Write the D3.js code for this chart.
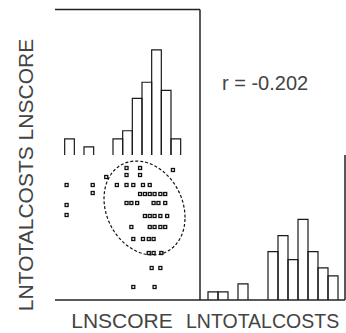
<!DOCTYPE html>
<html>
<head>
<meta charset="utf-8">
<script src="https://cdn.jsdelivr.net/npm/d3@7"></script>
<style>
  html, body { margin: 0; padding: 0; background: #fff; }
  svg { display: block; }
  .lbl { font-family: "Liberation Sans", Arial, sans-serif; font-size: 21px; fill: #444; }
</style>
</head>
<body>
<div id="chart"></div>
<script>
// LNSCORE histogram (bin width 0.1)
const scoreBinStart = [3.1, 3.3, 3.6, 3.7, 3.8, 3.9, 4.0, 4.1, 4.2];
const scoreBinCount = [2, 1, 2, 3, 7, 9, 13, 8, 2];

// LNTOTALCOSTS histogram (bin width 0.2)
const costBinStart = [7.0, 7.2, 7.6, 8.2, 8.4, 8.6, 8.8, 9.0, 9.2, 9.4];
const costBinCount = [1, 1, 2, 6, 8, 5, 10, 6, 4, 3];

// scatter LNSCORE vs LNTOTALCOSTS
const lnScore = [3.12, 3.12, 3.12, 3.39, 3.39, 3.53, 3.64, 3.74, 3.74, 3.74,
  3.88, 3.88, 4.22, 3.81, 3.91, 3.98, 3.88, 3.93, 3.98, 4.03,
  4.09, 4.14, 3.74, 3.79, 3.85, 4.02, 4.07, 4.14, 3.93, 3.98,
  4.03, 4.09, 4.16, 3.79, 3.98, 4.03, 4.09, 4.14, 3.81, 3.91,
  3.97, 4.02, 3.97, 4.02, 4.10, 4.00, 4.09, 3.81, 4.03];
const lnCosts = [9.14, 8.74, 8.54, 9.14, 8.98, 9.30, 9.14, 9.48, 9.34, 9.14,
  9.48, 9.34, 9.44, 9.14, 9.14, 9.14, 8.96, 8.96, 8.96, 8.96,
  8.96, 8.96, 8.78, 8.78, 8.78, 8.78, 8.78, 8.78, 8.52, 8.52,
  8.52, 8.52, 8.52, 8.30, 8.30, 8.30, 8.30, 8.30, 8.06, 8.06,
  8.06, 8.06, 7.78, 7.78, 7.78, 7.48, 7.48, 7.10, 7.10];

// ellipse: mean score, mean cost, sd score, sd cost, r
const ellipseStats = [3.926, 8.68, 0.419, 0.94, -0.202];

const varNames = ['LNSCORE', 'LNTOTALCOSTS'];
const corrLabel = 'r = -0.202';

const width = 346, height = 333;
const svg = d3.select('#chart').append('svg')
  .attr('width', width).attr('height', height);

const xScore = d3.scaleLinear().domain([3.0, 4.5]).range([55, 200]);
const xCost = d3.scaleLinear().domain([6.84, 9.74]).range([200, 345]);
const yCost = d3.scaleLinear().domain([6.84, 9.74]).range([300, 155]);
const yCountTop = d3.scaleLinear().domain([0, 18]).range([155, 9.5]);
const yCountBottom = d3.scaleLinear().domain([0, 18]).range([300, 155]);

function drawHist(starts, counts, bw, x, y) {
  svg.append('g')
    .selectAll('path')
    .data(starts.map((s, i) => ({ x0: s, x1: s + bw, n: counts[i] })))
    .join('path')
    .attr('fill', 'none')
    .attr('stroke', '#1a1a1a')
    .attr('stroke-width', 1.2)
    .attr('d', d => 'M' + x(d.x0) + ',' + y(0) + 'V' + y(d.n) + 'H' + x(d.x1) + 'V' + y(0));
}

drawHist(scoreBinStart, scoreBinCount, 0.1, xScore, yCountTop);
drawHist(costBinStart, costBinCount, 0.2, xCost, yCountBottom);

// frame lines
const [fLeft, fMid] = xScore.range();
const fRight = xCost.range()[1];
const fTop = yCountTop.range()[1];
const [fBottom, fMidY] = yCost.range();
const frameLines = [
  [fLeft, fTop, fMid, fTop],
  [fMid, fTop, fMid, fBottom],
  [fLeft, fBottom, fRight, fBottom],
  [fRight, fMidY, fRight, fBottom]
];
svg.append('g')
  .selectAll('line')
  .data(frameLines)
  .join('line')
  .attr('x1', d => d[0]).attr('y1', d => d[1])
  .attr('x2', d => d[2]).attr('y2', d => d[3])
  .attr('stroke', '#222')
  .attr('stroke-width', 1.5);

// scatter points
const pts = lnScore.map((v, i) => [v, lnCosts[i]]);
svg.append('g')
  .selectAll('rect')
  .data(pts)
  .join('rect')
  .attr('x', d => xScore(d[0]) - 1.5)
  .attr('y', d => yCost(d[1]) - 1.5)
  .attr('width', 3)
  .attr('height', 3)
  .attr('fill', '#fff')
  .attr('stroke', '#111')
  .attr('stroke-width', 1.3);

// ellipse
const [mx, my, sx, sy, r] = ellipseStats;
const ell = d3.range(0, 2 * Math.PI + 0.01, Math.PI / 60).map(t => [
  mx + sx * Math.cos(t),
  my + sy * (r * Math.cos(t) + Math.sqrt(1 - r * r) * Math.sin(t))
]);
svg.append('path')
  .datum(ell)
  .attr('fill', 'none')
  .attr('stroke', '#111')
  .attr('stroke-width', 1.2)
  .attr('stroke-dasharray', '3,2')
  .attr('d', d3.line().x(d => xScore(d[0])).y(d => yCost(d[1])));

// labels
svg.append('text').attr('class', 'lbl')
  .attr('x', 222).attr('y', 90)
  .style('font-size', '20px')
  .text(corrLabel);

svg.append('text').attr('class', 'lbl')
  .attr('text-anchor', 'middle')
  .attr('transform', 'translate(32.5,175) rotate(-90)')
  .text(varNames[1] + ' ' + varNames[0]);

svg.append('text').attr('class', 'lbl')
  .attr('text-anchor', 'middle')
  .attr('x', 122).attr('y', 328)
  .text(varNames[0]);

svg.append('text').attr('class', 'lbl')
  .attr('x', 186).attr('y', 328)
  .style('font-size', '19.5px')
  .text(varNames[1]);
</script>
</body>
</html>
